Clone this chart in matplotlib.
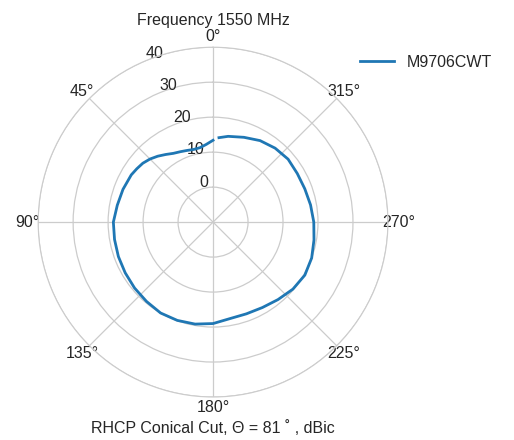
import numpy as np
import matplotlib.pyplot as plt

plt.rcParams['font.family'] = ['Liberation Sans', 'DejaVu Sans']

# angle (deg) and RHCP gain (dBic)
angle_deg = [0, 5, 10, 15, 20, 25, 30, 35, 40, 45, 50, 55, 60, 70, 80, 90,
             100, 110, 120, 130, 140, 150, 160, 170, 180, 190, 200, 210,
             220, 230, 240, 250, 260, 270, 280, 290, 300, 310, 320, 330,
             340, 350, 356]
gain_dbic = [13.4, 12.3, 11.6, 11.5, 11.8, 12.2, 12.7, 13.6, 14.6, 15.5, 16.2, 16.6, 17.0, 17.4, 17.8, 18.5,
             18.6, 18.8, 19.0, 19.3, 19.6, 20.0, 19.9, 19.6, 19.0, 18.0, 17.9, 18.2,
             18.9, 19.8, 20.3, 20.0, 19.3, 18.8, 18.3, 17.9, 17.8, 18.0, 17.6, 16.9,
             15.8, 14.9, 14.2]

r_ticks = [0, 10, 20, 30, 40]
grid_c = '#cccccc'
text_c = '#262626'
fs = 11.5

fig = plt.figure(figsize=(5.14, 4.4), dpi=100)
ax = fig.add_axes([0.074, 0.0977, 0.681, 0.795], projection='polar')
ax.set_theta_zero_location('N')
ax.set_theta_direction(1)

ax.plot(np.deg2rad(angle_deg), gain_dbic, color='#1f77b4', lw=2, label='M9706CWT')

ax.set_ylim(-10, 40)
ax.set_yticks(r_ticks)
ax.set_rlabel_position(22.5)
ax.grid(True, color=grid_c, lw=0.9)
ax.spines['polar'].set_color(grid_c)
ax.tick_params(labelsize=fs, colors=text_c)
ax.tick_params(axis='x', pad=-3)
ax.set_facecolor('white')

# title and axis caption placed by hand (polar auto-title sits too high)
fig.text(213 / 514, 1 - 20 / 440, 'Frequency 1550 MHz', fontsize=fs, color=text_c,
         ha='center', va='center')
fig.text(213 / 514, 1 - 428 / 440, 'RHCP Conical Cut, Θ = 81 ˚ , dBic', fontsize=fs,
         color=text_c, ha='center', va='center')

ax.legend(loc='upper left', bbox_to_anchor=(0.88, 1.02), frameon=False,
          fontsize=fs, labelcolor=text_c, handlelength=2.1)

fig.savefig('out.png', dpi=100, facecolor='white')
